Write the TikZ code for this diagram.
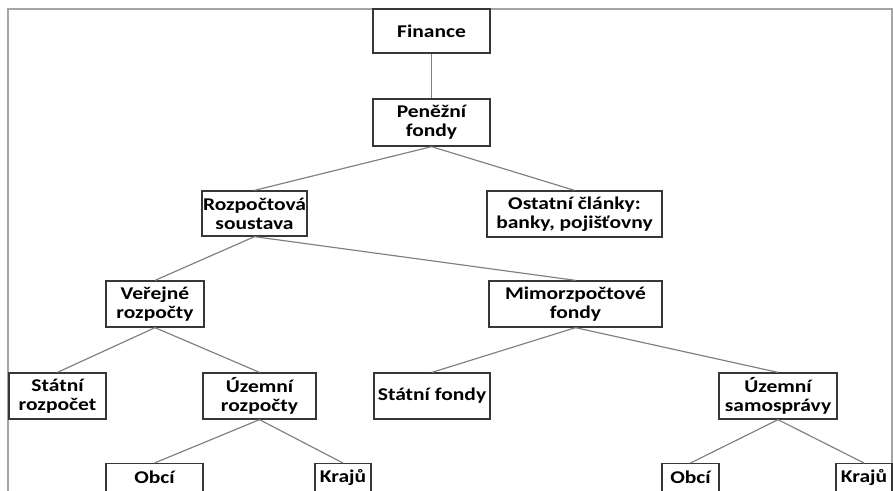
\documentclass[tikz,border=0pt]{standalone}
\usepackage{fontspec}
\setmainfont{Carlito}[FakeStretch=1.2]
\usepackage{tikz}
\usetikzlibrary{positioning}

\definecolor{linkgray}{RGB}{128,128,128}
\definecolor{framegray}{RGB}{165,165,165}
\definecolor{boxline}{RGB}{55,55,55}

\tikzset{
  unit/.style={draw=boxline,line width=1.1pt,fill=white,inner sep=0pt,
    align=center,font=\fontsize{15.3}{16.3}\selectfont\bfseries,
    minimum height=46*0.03cm},
  leaf/.style={unit,anchor=north,minimum height=28*0.03cm},
  link/.style={draw=linkgray,line width=1pt},
}

\begin{document}
\begin{tikzpicture}[x=0.03cm,y=-0.03cm]
  \useasboundingbox (0,0) rectangle (893,490);
  \clip (0,0) rectangle (893,490);
  % ramecek
  \draw[framegray,line width=1.4pt] (8,520) -- (8,9) -- (892,9) -- (892,520);

  % uroven 1 a 2
  \node[unit,minimum width=117*0.03cm,minimum height=44*0.03cm] (fin) at (431.5,31) {Finance};
  \node[unit,minimum width=117*0.03cm,minimum height=47*0.03cm] (pen) at (431.5,122.5) {Peněžní\\fondy};
  % uroven 3
  \node[unit,minimum width=105*0.03cm,minimum height=45*0.03cm] (roz) at (254.5,213.5) {Rozpočtová\\soustava};
  \node[unit,minimum width=175*0.03cm] (ost) at (574.5,214) {Ostatní články:\\banky, pojišťovny};
  % uroven 4
  \node[unit,minimum width=98*0.03cm] (ver) at (155,304) {Veřejné\\rozpočty};
  \node[unit,minimum width=173*0.03cm] (mim) at (575.5,304) {Mimorzpočtové\\fondy};
  % uroven 5
  \node[unit,minimum width=97*0.03cm] (str) at (57.5,396) {Státní\\rozpočet};
  \node[unit,minimum width=113*0.03cm] (uro) at (259.5,396) {Územní\\rozpočty};
  \node[unit,minimum width=116*0.03cm] (stf) at (432,396) {Státní fondy};
  \node[unit,minimum width=118*0.03cm] (usa) at (778,396) {Územní\\samosprávy};
  % uroven 6
  \node[leaf,minimum width=97*0.03cm] (ob1) at (154.5,463) {Obcí};
  \node[leaf,minimum width=56*0.03cm] (kr1) at (343,463) {Krajů};
  \node[leaf,minimum width=57*0.03cm] (ob2) at (690.5,463) {Obcí};
  \node[leaf,minimum width=56*0.03cm] (kr2) at (864,463) {Krajů};

  % spojnice
  \draw[link] (fin.south) -- (pen.north);
  \draw[link] (pen.south) -- (roz.north);
  \draw[link] (pen.south) -- (ost.north);
  \draw[link] (roz.south) -- (ver.north);
  \draw[link] (roz.south) -- (mim.north);
  \draw[link] (ver.south) -- (str.north);
  \draw[link] (ver.south) -- (uro.north);
  \draw[link] (mim.south) -- (stf.north);
  \draw[link] (mim.south) -- (usa.north);
  \draw[link] (uro.south) -- (ob1.north);
  \draw[link] (uro.south) -- (kr1.north);
  \draw[link] (usa.south) -- (ob2.north);
  \draw[link] (usa.south) -- (kr2.north);
\end{tikzpicture}
\end{document}
